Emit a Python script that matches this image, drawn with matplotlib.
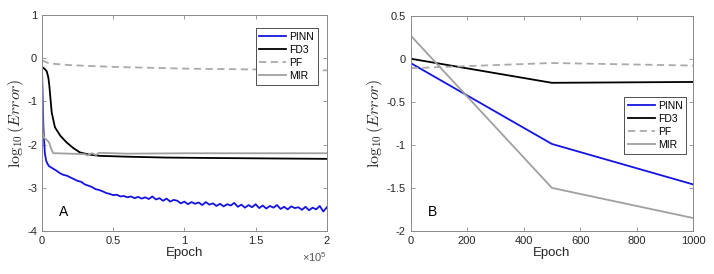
import matplotlib
matplotlib.use("Agg")
import matplotlib.pyplot as plt

plt.rcParams['font.family'] = ['Liberation Sans', 'DejaVu Sans']
plt.rcParams['mathtext.fontset'] = 'cm'

# ---------------- Panel A data ----------------
pinn_a_x = [0, 1000, 2000, 3000, 4000, 5000] + list(range(7500, 200001, 2500))
pinn_a_y = [-0.3, -1.6, -2.2, -2.38, -2.45, -2.5,
            -2.55, -2.6, -2.66, -2.7, -2.72, -2.76, -2.8, -2.84, -2.86, -2.92,
            -2.95, -2.98, -3.03, -3.05, -3.08, -3.12, -3.14, -3.17, -3.16, -3.2,
            -3.19, -3.22, -3.2, -3.24, -3.21, -3.25, -3.22, -3.26, -3.2, -3.27,
            -3.24, -3.3, -3.25, -3.32, -3.28, -3.3, -3.36, -3.32, -3.38, -3.33,
            -3.37, -3.34, -3.4, -3.33, -3.39, -3.36, -3.42, -3.37, -3.43, -3.38,
            -3.41, -3.35, -3.44, -3.39, -3.46, -3.4, -3.45, -3.38, -3.47, -3.41,
            -3.48, -3.42, -3.46, -3.4, -3.49, -3.44, -3.5, -3.43, -3.47, -3.45,
            -3.51, -3.44, -3.52, -3.46, -3.5, -3.42, -3.55, -3.45]

fd3_a_x = [0, 2000, 3300, 4500, 5200, 6000, 6800, 9100, 13000, 17300, 22000,
           26600, 33000, 40600, 60000, 87400, 120000, 160000, 200000]
fd3_a_y = [-0.2, -0.25, -0.3, -0.45, -0.65, -0.95, -1.25, -1.6, -1.8, -1.95,
           -2.08, -2.18, -2.23, -2.26, -2.28, -2.3, -2.31, -2.32, -2.33]

pf_a_x = [0, 5000, 20000, 50000, 100000, 150000, 200000]
pf_a_y = [-0.05, -0.12, -0.16, -0.2, -0.24, -0.26, -0.28]

mir_a_x = [0, 500, 1500, 3000, 5000, 6500, 8000, 10000, 20000, 30000, 32000,
           35000, 38000, 40000, 60000, 100000, 150000, 200000]
mir_a_y = [0.0, -1.7, -1.85, -1.88, -1.95, -2.1, -2.2, -2.2, -2.21, -2.22,
           -2.25, -2.2, -2.24, -2.19, -2.21, -2.2, -2.2, -2.2]

# ---------------- Panel B data ----------------
epoch_b = [0, 500, 1000]
pinn_b = [-0.05, -0.99, -1.46]
fd3_b = [0.0, -0.28, -0.27]
pf_b = [-0.11, -0.05, -0.08]
mir_b = [0.27, -1.5, -1.85]

a_xticks = [0, 50000, 100000, 150000, 200000]
a_xticklabels = ['0', '0.5', '1', '1.5', '2']
a_yticks = [-4, -3, -2, -1, 0, 1]
a_yticklabels = ['-4', '-3', '-2', '-1', '0', '1']
b_xticks = [0, 200, 400, 600, 800, 1000]
b_yticks = [-2, -1.5, -1, -0.5, 0, 0.5]
b_yticklabels = ['-2', '-1.5', '-1', '-0.5', '0', '0.5']

blue = '#1414dc'
gray_pf = '#aaaaaa'
gray_mir = '#a0a0a0'
spine_c = '#8a8a8a'
text_c = '#262626'

fig = plt.figure(figsize=(7.14, 2.74), dpi=100)
axA = fig.add_axes([0.0588, 0.157, 0.399, 0.788])
axB = fig.add_axes([0.575, 0.157, 0.396, 0.786])

for ax in (axA, axB):
    ax.tick_params(direction='in', top=True, right=True, labelsize=8,
                   length=3, width=0.6, color=spine_c, labelcolor=text_c)
    for s in ax.spines.values():
        s.set_linewidth(0.7)
        s.set_color(spine_c)

def legend(ax, **kw):
    leg = ax.legend(fontsize=7.5, frameon=True, fancybox=False,
                    edgecolor='#333333', framealpha=1, handlelength=2.6,
                    handletextpad=0.3, labelspacing=0.3, borderpad=0.35,
                    borderaxespad=0, **kw)
    leg.get_frame().set_linewidth(0.6)
    return leg

axA.plot(pinn_a_x, pinn_a_y, color=blue, lw=1.3, label='PINN')
axA.plot(fd3_a_x, fd3_a_y, color='black', lw=1.3, label='FD3')
axA.plot(pf_a_x, pf_a_y, color=gray_pf, lw=1.3, ls=(0, (4, 2.5)), label='PF')
axA.plot(mir_a_x, mir_a_y, color=gray_mir, lw=1.3, label='MIR')
axA.set_xlim(0, 200000)
axA.set_ylim(-4, 1)
axA.set_xticks(a_xticks)
axA.set_xticklabels(a_xticklabels)
axA.set_yticks(a_yticks)
axA.set_yticklabels(a_yticklabels)
axA.set_xlabel('Epoch', fontsize=9.5, labelpad=1, color=text_c)
axA.set_ylabel(r'$\log_{10}(Error)$', fontsize=11.5, labelpad=1, color=text_c)
axA.text(1.0, -0.09, r'$\mathregular{\times10^5}$', transform=axA.transAxes,
         fontsize=8, ha='right', va='top', color='#555555')
axA.text(0.06, 0.07, 'A', transform=axA.transAxes, fontsize=10, color='black')
legend(axA, loc='upper right', bbox_to_anchor=(0.968, 0.94))

axB.plot(epoch_b, pinn_b, color=blue, lw=1.3, label='PINN')
axB.plot(epoch_b, fd3_b, color='black', lw=1.3, label='FD3')
axB.plot(epoch_b, pf_b, color=gray_pf, lw=1.3, ls=(0, (4, 2.5)), label='PF')
axB.plot(epoch_b, mir_b, color=gray_mir, lw=1.3, label='MIR')
axB.set_xlim(0, 1000)
axB.set_ylim(-2, 0.5)
axB.set_xticks(b_xticks)
axB.set_yticks(b_yticks)
axB.set_yticklabels(b_yticklabels)
axB.set_xlabel('Epoch', fontsize=9.5, labelpad=1, color=text_c)
axB.set_ylabel(r'$\log_{10}(Error)$', fontsize=11.5, labelpad=1, color=text_c)
axB.text(0.06, 0.07, 'B', transform=axB.transAxes, fontsize=10, color='black')
legend(axB, loc='center right', bbox_to_anchor=(0.975, 0.49))

fig.savefig('out.png', dpi=100)
